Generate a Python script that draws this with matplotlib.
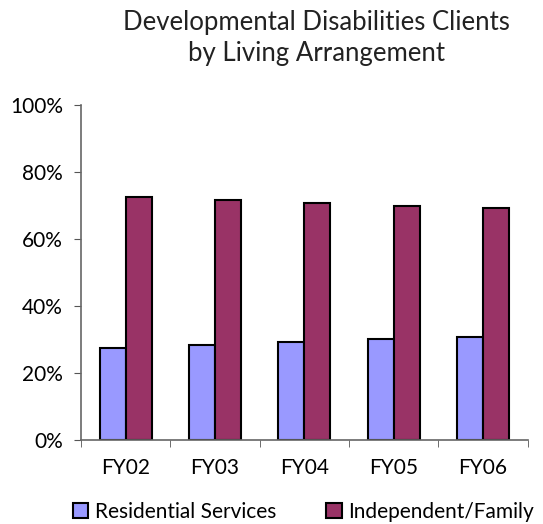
import numpy as np
import matplotlib
matplotlib.use("Agg")
import matplotlib.pyplot as plt
from matplotlib.ticker import FuncFormatter

plt.rcParams['font.family'] = ['Lato', 'DejaVu Sans']

years = ['FY02', 'FY03', 'FY04', 'FY05', 'FY06']
residential = [27.4, 28.5, 29.2, 30.3, 30.9]
independent = [72.6, 71.5, 70.8, 69.7, 69.1]

fig = plt.figure(figsize=(5.43, 5.24), dpi=100)
ax = fig.add_axes([0.149, 0.160, 0.823, 0.640])

x = np.arange(len(years))
w = 0.29
ax.bar(x - w/2, residential, w, color='#9999FF', edgecolor='black', linewidth=1.5,
       label='Residential Services')
ax.bar(x + w/2, independent, w, color='#993366', edgecolor='black', linewidth=1.5,
       label='Independent/Family')

ax.set_xlim(-0.5, len(years) - 0.5)
ax.set_ylim(0, 100)
ax.set_yticks(np.arange(0, 101, 20))
ax.yaxis.set_major_formatter(FuncFormatter(lambda v, p: '%d%%' % v))
ax.set_xticks(x)
ax.set_xticklabels(years, fontsize=15)
ax.set_xticks(np.arange(-0.5, len(years), 1), minor=True)
ax.tick_params(axis='x', which='major', length=0, pad=13)
ax.tick_params(axis='x', which='minor', length=5, color='#555555', direction='out')
ax.tick_params(axis='y', labelsize=15, length=5, color='#555555', pad=8)

for s in ['top', 'right']:
    ax.spines[s].set_visible(False)
for s in ['left', 'bottom']:
    ax.spines[s].set_color('#666666')
    ax.spines[s].set_linewidth(1.2)

fig.text(0.583, 0.928, 'Developmental Disabilities Clients\nby Living Arrangement',
         ha='center', va='center', fontsize=18.5, linespacing=1.3, color='#222222')

fig.legend(loc='lower right', bbox_to_anchor=(1.0, -0.014), ncol=2, frameon=False,
           fontsize=15, handlelength=0.75, handleheight=0.75, handletextpad=0.3,
           columnspacing=2.4, borderaxespad=0.05)

fig.savefig('out.png', dpi=100)
